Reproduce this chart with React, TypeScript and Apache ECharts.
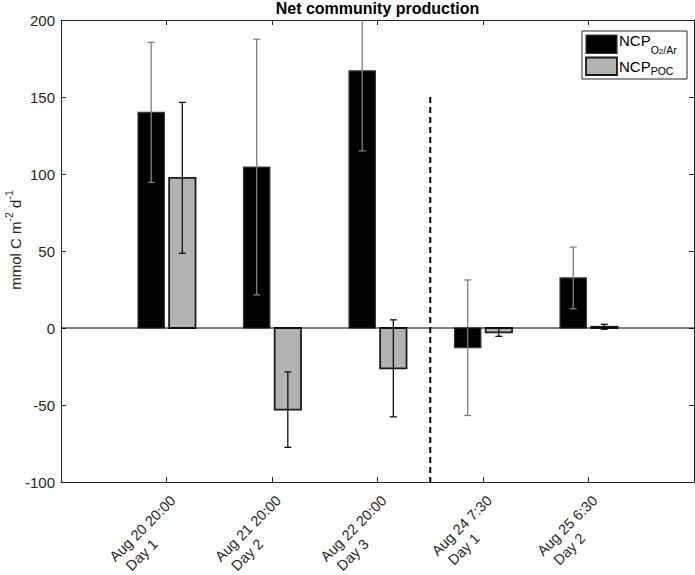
import React, { useEffect, useRef } from "react";
import * as echarts from "echarts";

// ---- data ----
const dates = ["Aug 20 20:00", "Aug 21 20:00", "Aug 22 20:00", "Aug 24 7:30", "Aug 25 6:30"];
const days = ["Day 1", "Day 2", "Day 3", "Day 1", "Day 2"];
const ncpO2Ar = [140, 104.5, 167, -12.8, 32.5];
const ncpO2ArErr = [45.5, 83, 52, 44, 20];
const ncpPOC = [97.5, -53, -26.2, -2.8, 0.8];
const ncpPOCErr = [49, 24.5, 31.5, 2.6, 1.6];
const yMin = -100;
const yMax = 200;
const yStep = 50;
const xMin = 0;
const xMax = 6;
const dividerX = 3.5;
const dividerTop = 150;

const FONT = '"Liberation Sans", Arial, Helvetica, sans-serif';
const AXIS_COLOR = "#262626";
const TICK_FS = 15;
const XLAB_FS = 14.5;
const BAR_W = 0.25;

function makeRender(offset: number, fill: string, stroke: string, errColor: string, lw: number) {
  return (params: any, api: any) => {
    const x = api.value(0) + offset;
    const v = api.value(1);
    const e = api.value(2);
    const a = api.coord([x - BAR_W / 2, 0]);
    const b = api.coord([x + BAR_W / 2, v]);
    const t = api.coord([x, v + e]);
    const d = api.coord([x, v - e]);
    const cap = 3.5;
    return {
      type: "group",
      children: [
        {
          type: "rect",
          shape: { x: a[0], y: Math.min(a[1], b[1]), width: b[0] - a[0], height: Math.abs(b[1] - a[1]) },
          style: { fill, stroke, lineWidth: lw },
        },
        { type: "line", shape: { x1: t[0], y1: t[1], x2: d[0], y2: d[1] }, style: { stroke: errColor, lineWidth: 1.3 } },
        { type: "line", shape: { x1: t[0] - cap, y1: t[1], x2: t[0] + cap, y2: t[1] }, style: { stroke: errColor, lineWidth: 1.3 } },
        { type: "line", shape: { x1: d[0] - cap, y1: d[1], x2: d[0] + cap, y2: d[1] }, style: { stroke: errColor, lineWidth: 1.3 } },
      ],
    };
  };
}

export default function App() {
  const ref = useRef<HTMLDivElement>(null);
  useEffect(() => {
    if (!ref.current) return;
    const chart = echarts.init(ref.current, undefined, { renderer: "svg" });

    const canvas = document.createElement("canvas");
    const ctx = canvas.getContext("2d");
    const rich: Record<string, any> = {};
    const indent = 5;
    dates.forEach((dt, i) => {
      let w = dt.length * 7.5;
      if (ctx) {
        ctx.font = `${XLAB_FS}px "Liberation Sans"`;
        w = Math.ceil(ctx.measureText(dt).width) + 1;
      }
      const base = { align: "left", fontSize: XLAB_FS, fontFamily: FONT, color: AXIS_COLOR, lineHeight: 18 };
      rich["a" + i] = { ...base, width: w };
      rich["b" + i] = { ...base, width: w - indent, padding: [0, 0, 0, indent] };
    });

    const o2Data = ncpO2Ar.map((v, i) => [i + 1, v, ncpO2ArErr[i]]);
    const pocData = ncpPOC.map((v, i) => [i + 1, v, ncpPOCErr[i]]);

    const baseX = {
      type: "value",
      min: xMin,
      max: xMax,
      interval: 1,
      splitLine: { show: false },
      axisLine: { onZero: false, lineStyle: { color: AXIS_COLOR, width: 1 } },
      axisTick: { inside: true, length: 5, lineStyle: { color: AXIS_COLOR } },
    };
    const baseY = {
      type: "value",
      min: yMin,
      max: yMax,
      interval: yStep,
      splitLine: { show: false },
      axisLine: { show: true, onZero: false, lineStyle: { color: AXIS_COLOR, width: 1 } },
      axisTick: { inside: true, length: 5, lineStyle: { color: AXIS_COLOR } },
    };

    chart.setOption({
      animation: false,
      backgroundColor: "#ffffff",
      grid: { left: 61, right: 1, top: 20, bottom: 93, containLabel: false, outerBoundsMode: "none" },
      xAxis: [
        {
          ...baseX,
          position: "bottom",
          axisLabel: {
            rotate: 45,
            margin: 7,
            align: "right",
            verticalAlign: "top",
            padding: [2, 0, 0, 0],
            hideOverlap: false,
            formatter: (val: number) => {
              const r = Math.round(val);
              const i = r - 1;
              if (Math.abs(val - r) > 1e-6 || i < 0 || i >= dates.length) return "";
              return `{a${i}|${dates[i]}}\n{b${i}|${days[i]}}`;
            },
            rich,
          },
        },
        { ...baseX, position: "top", axisLabel: { show: false } },
      ],
      yAxis: [
        {
          ...baseY,
          position: "left",
          axisLabel: { fontSize: TICK_FS, fontFamily: FONT, color: AXIS_COLOR, margin: 6 },
        },
        { ...baseY, position: "right", axisLabel: { show: false } },
      ],
      series: [
        {
          type: "line",
          data: [
            [xMin, 0],
            [xMax, 0],
          ],
          symbol: "none",
          silent: true,
          lineStyle: { color: "#000", width: 1 },
        },
        {
          type: "custom",
          name: "NCP O2/Ar",
          data: o2Data,
          clip: true,
          encode: { x: 0, y: 1 },
          renderItem: makeRender(-0.145, "#000000", "#3a3a3a", "#808080", 1.2),
        },
        {
          type: "custom",
          name: "NCP POC",
          data: pocData,
          clip: true,
          encode: { x: 0, y: 1 },
          renderItem: makeRender(0.15, "#b3b3b3", "#1a1a1a", "#111111", 1.8),
        },
        {
          type: "line",
          data: [
            [dividerX, dividerTop],
            [dividerX, yMin],
          ],
          symbol: "none",
          silent: true,
          lineStyle: { color: "#000", width: 2, type: [6, 4] },
        },
      ],
      graphic: [
        {
          type: "text",
          x: 377.5,
          y: 8,
          style: {
            text: "Net community production",
            fontSize: 16,
            fontWeight: "bold",
            fontFamily: FONT,
            fill: "#000",
            align: "center",
            verticalAlign: "middle",
          },
        },
        {
          type: "text",
          x: 23,
          y: 240,
          rotation: Math.PI / 2,
          style: {
            text: "{m|mmol C m}{s|-2}{m| d}{s|-1}",
            align: "center",
            verticalAlign: "bottom",
            fill: AXIS_COLOR,
            fontFamily: FONT,
            rich: {
              m: { fontSize: 15, height: 16, verticalAlign: "bottom", fontFamily: FONT, fill: AXIS_COLOR },
              s: { fontSize: 10.5, height: 29, verticalAlign: "top", fontFamily: FONT, fill: AXIS_COLOR },
            },
          },
        },
        {
          type: "rect",
          shape: { x: 582, y: 31, width: 105, height: 48 },
          style: { fill: "#ffffff", stroke: AXIS_COLOR, lineWidth: 1 },
          z: 10,
        },
        {
          type: "rect",
          shape: { x: 586, y: 35, width: 31, height: 18.5 },
          style: { fill: "#000000", stroke: "#3a3a3a", lineWidth: 1.2 },
          z: 11,
        },
        {
          type: "rect",
          shape: { x: 586, y: 57.5, width: 31, height: 17.5 },
          style: { fill: "#b3b3b3", stroke: "#1a1a1a", lineWidth: 1.8 },
          z: 11,
        },
        {
          type: "text",
          x: 619,
          y: 32.8,
          z: 11,
          style: {
            text: "{n|NCP}{s|O}{ss|2}{s|/Ar}",
            verticalAlign: "top",
            align: "left",
            fill: "#000",
            fontFamily: FONT,
            rich: {
              n: { fontSize: 15, height: 16, verticalAlign: "top", fontFamily: FONT, fill: "#000" },
              s: { fontSize: 10.5, height: 34, verticalAlign: "top", fontFamily: FONT, fill: "#000" },
              ss: { fontSize: 8, height: 38, verticalAlign: "top", fontFamily: FONT, fill: "#000" },
            },
          },
        },
        {
          type: "text",
          x: 619,
          y: 58.3,
          z: 11,
          style: {
            text: "{n|NCP}{s|POC}",
            verticalAlign: "top",
            align: "left",
            fill: "#000",
            fontFamily: FONT,
            rich: {
              n: { fontSize: 15, height: 16, verticalAlign: "top", fontFamily: FONT, fill: "#000" },
              s: { fontSize: 10.5, height: 25, verticalAlign: "top", fontFamily: FONT, fill: "#000" },
            },
          },
        },
      ],
    });
    return () => chart.dispose();
  }, []);
  return <div ref={ref} style={{ position: "fixed", left: 0, top: 0, width: 695, height: 575 }} />;
}
